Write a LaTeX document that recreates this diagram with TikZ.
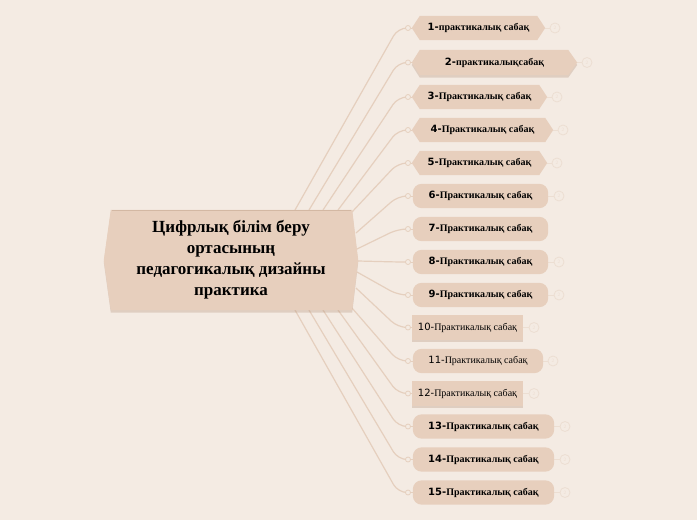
\documentclass[tikz,border=0pt]{standalone}
\usepackage{fontspec}
\setmainfont{Liberation Serif}
\newfontfamily\numfont{DejaVu Sans}
\usetikzlibrary{shadows,backgrounds}
\definecolor{bg}{RGB}{244,235,227}
\definecolor{nodefill}{RGB}{231,207,189}
\definecolor{linec}{RGB}{229,207,190}
\definecolor{faint}{RGB}{236,222,210}
\definecolor{shadowc}{RGB}{175,140,115}
\newcommand\numB[1]{{\numfont\bfseries #1}}
\newcommand\numR[1]{{\numfont #1}}
\begin{document}
\begin{tikzpicture}[x=1pt,y=-1pt,
  conn/.style={draw=linec, line width=1.2pt, rounded corners=9pt},
  dotc/.style={circle, draw=linec, fill=bg, line width=0.8pt, minimum size=5pt, inner sep=0pt},
  rcirc/.style={circle, draw=faint, line width=0.8pt, minimum size=10pt, inner sep=0pt, text=faint, font=\fontsize{5}{5}\selectfont\sffamily},
  faintline/.style={draw=faint, line width=0.8pt},
  txt/.style={inner sep=0pt, minimum height=24pt, font=\fontsize{10}{11}\selectfont\bfseries},
  txtr/.style={inner sep=0pt, minimum height=24pt, font=\fontsize{10}{11}\selectfont},
  shad/.style={drop shadow={shadow xshift=0pt, shadow yshift=-2.5pt, opacity=0.3, fill=shadowc}},
  hexf/.style={fill=nodefill},
  roundf/.style={fill=nodefill, rounded corners=9pt},
]
\useasboundingbox (0,0) rectangle (697,520);
% ---- central node
\node[align=center, minimum width=254pt, minimum height=100pt, inner sep=0pt,
  font=\fontsize{17}{21}\selectfont\bfseries] (c) at (231,260)
  {\raisebox{-2.5pt}{\parbox{250pt}{\centering Цифрлық білім беру\\ортасының\\педагогикалық дизайны\\практика}}};

% ---- child nodes (text)
\node[txt, minimum width=133pt] (n1) at (478.5,28) {\numB{1-}практикалық сабақ};
\node[txt, minimum width=165pt, minimum height=25pt] (n2) at (494.5,62.5) {\numB{2-}практикалықсабақ};
\node[txt, minimum width=135pt] (n3) at (479.5,97) {\numB{3-}Практикалық сабақ};
\node[txt, minimum width=141pt] (n4) at (482.5,130) {\numB{4-}Практикалық сабақ};
\node[txt, minimum width=135pt] (n5) at (479.5,163) {\numB{5-}Практикалық сабақ};
\node[txt, minimum width=135pt] (n6) at (480.5,196) {\numB{6-}Практикалық сабақ};
\node[txt, minimum width=135pt] (n7) at (480.5,229) {\numB{7-}Практикалық сабақ};
\node[txt, minimum width=135pt] (n8) at (480.5,262) {\numB{8-}Практикалық сабақ};
\node[txt, minimum width=135pt] (n9) at (480.5,295) {\numB{9-}Практикалық сабақ};
\node[txtr, minimum width=111pt] (n10) at (467.5,327.5) {\numR{10-}Практикалық сабақ};
\node[txtr, minimum width=130pt] (n11) at (478,361) {\numR{11-}Практикалық сабақ};
\node[txtr, minimum width=111pt] (n12) at (467.5,393.5) {\numR{12-}Практикалық сабақ};
\node[txt, minimum width=141pt] (n13) at (483.5,426.5) {\numB{13-}Практикалық сабақ};
\node[txt, minimum width=141pt] (n14) at (483.5,459.5) {\numB{14-}Практикалық сабақ};
\node[txt, minimum width=141pt] (n15) at (483.5,492.5) {\numB{15-}Практикалық сабақ};

% ---- left small circles
\foreach \i/\y in {1/28,2/62.5,3/97,4/130,5/163,6/196,7/229,8/262,9/295,10/327.5,11/361,12/393.5,13/426.5,14/459.5,15/492.5}
  \node[dotc] (l\i) at (408,\y) {};

% ---- right faint circles
\foreach \i/\x/\y in {1/555/28,2/587/62.5,3/557/97,4/563/130,5/557/163,6/559/196,8/559/262,9/559/295,10/534/327.5,11/553/361,12/534/393.5,13/565/426.5,14/565/459.5,15/565/492.5}
  \node[rcirc] (r\i) at (\x,\y) {2};

% ---- connector start points on the central node
\coordinate (s1) at (295,210);
\coordinate (s2) at (309,210);
\coordinate (s3) at (323,210);
\coordinate (s4) at (338,210);
\coordinate (s5) at (352,212);
\coordinate (s6) at (356,233);
\coordinate (s7) at (357,249);
\coordinate (s8) at (358,261);
\coordinate (s9) at (357,272);
\coordinate (s10) at (356,288);
\coordinate (s11) at (352,308);
\coordinate (s12) at (338,310);
\coordinate (s13) at (323,310);
\coordinate (s14) at (309,310);
\coordinate (s15) at (295,310);

\begin{scope}[on background layer]
  \fill[bg] (0,0) rectangle (697,520);
  % connectors
  \foreach \i in {1,...,15}
    \draw[conn] (s\i) -- ([xshift=-10pt]l\i.center) -- (l\i.west);
  \foreach \i in {1,...,15}
    \draw[linec, line width=0.8pt] (l\i.east) -- (n\i.west);
  \foreach \i in {1,2,3,4,5,6,8,9,10,11,12,13,14,15}
    \draw[faintline] (n\i.east) -- (r\i.west);
  % central shape
  \fill[nodefill, shad] (c.west) -- ([xshift=7pt]c.north west) -- ([xshift=-6pt]c.north east)
    -- (c.east) -- ([xshift=-6pt]c.south east) -- ([xshift=7pt]c.south west) -- cycle;
  \draw[shadowc!35!nodefill, line width=1.2pt] ([xshift=8pt,yshift=-1pt]c.north west) -- ([xshift=-7pt,yshift=-1pt]c.north east);
  % hexagon nodes
  \foreach \i in {1,3,4,5}
    \fill[hexf] (n\i.west) -- ([xshift=8pt]n\i.north west) -- ([xshift=-8pt]n\i.north east)
      -- (n\i.east) -- ([xshift=-8pt]n\i.south east) -- ([xshift=8pt]n\i.south west) -- cycle;
  \fill[hexf, shad] (n2.west) -- ([xshift=8pt]n2.north west) -- ([xshift=-9pt]n2.north east)
      -- (n2.east) -- ([xshift=-9pt]n2.south east) -- ([xshift=8pt]n2.south west) -- cycle;
  % rounded nodes
  \foreach \i in {6,7,8,9,11,13,14,15}
    \fill[roundf] (n\i.north west) rectangle (n\i.south east);
  % rectangular shadowed nodes
  \foreach \i in {10,12}
    \fill[nodefill, shad] (n\i.north west) rectangle (n\i.south east);
\end{scope}
\end{tikzpicture}
\end{document}
